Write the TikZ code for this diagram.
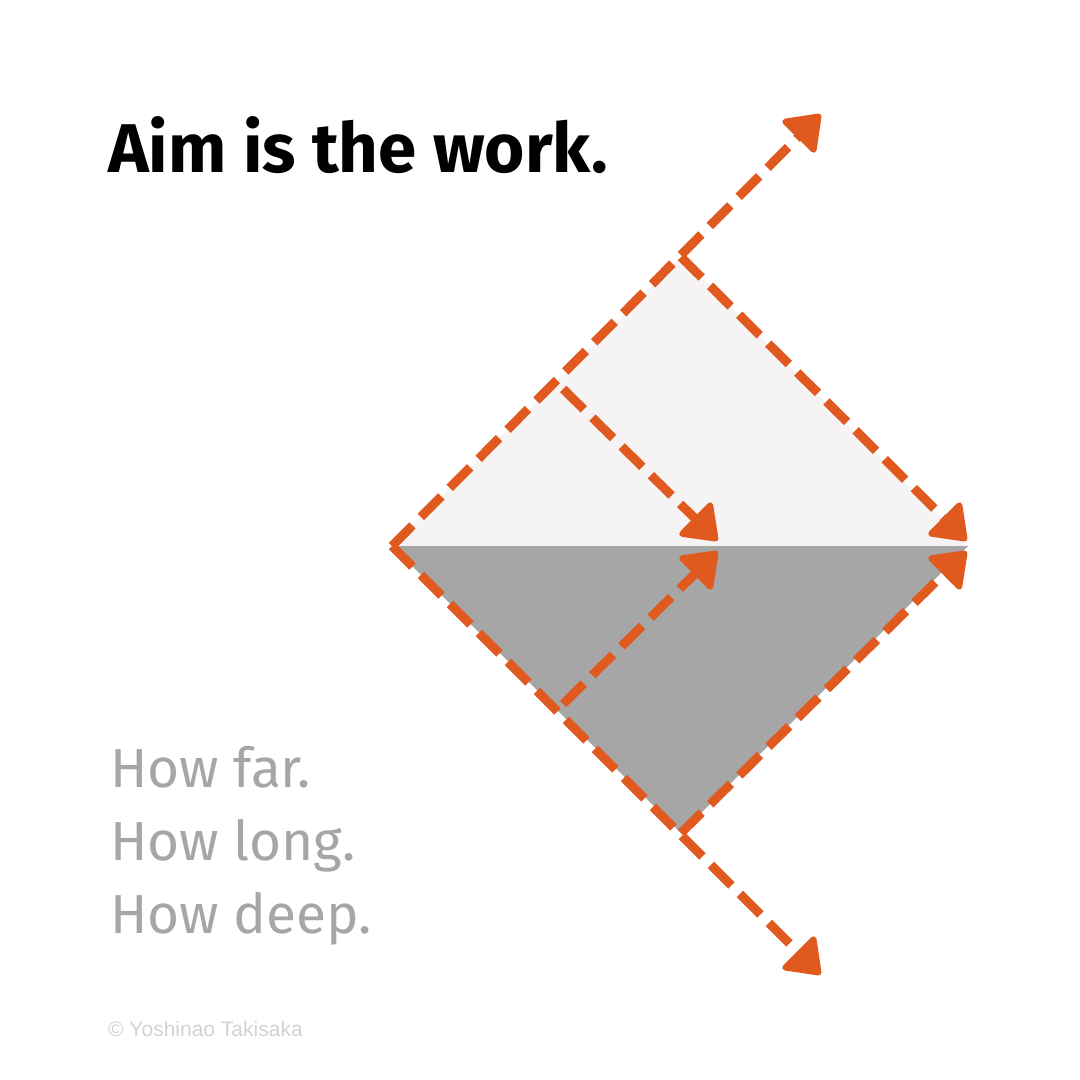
\documentclass[tikz,border=0pt]{standalone}
\usepackage{fontspec}
\setmainfont{Fira Sans}
\newfontfamily\arialfont{Liberation Sans}
\usetikzlibrary{calc}
\definecolor{orng}{RGB}{224,89,30}
\definecolor{lightfill}{HTML}{F6F3F4}
\definecolor{darkfill}{HTML}{A6A6A6}
\definecolor{txtgray}{HTML}{A6A6A6}
\definecolor{copygray}{HTML}{D2D2D2}
\tikzset{
  orangedash/.style={draw=orng, line width=9pt, dash pattern=on 29pt off 12pt, shorten >=26pt},
  headshape/.style={draw=orng, fill=orng, solid, line width=6pt, line join=round},
  titletext/.style={anchor=base west, inner sep=0pt, font=\bfseries\fontsize{69}{69}\selectfont},
  subtext/.style={anchor=base west, inner sep=0pt, text=txtgray, font=\fontsize{55}{55}\selectfont},
  copytext/.style={anchor=base west, inner sep=0pt, text=copygray, font=\arialfont\fontsize{21}{21}\selectfont}
}
% #1 = tip coordinate, #2 = coordinate the arrow comes from
\newcommand\myhead[2]{%
  \filldraw[headshape]
    ($(#1)!5pt!(#2)$)
    -- ($($(#1)!32pt!(#2)$)!20pt!90:(#1)$)
    -- ($($(#1)!32pt!(#2)$)!20pt!-90:(#1)$)
    -- cycle;}
\begin{document}
\begin{tikzpicture}[x=1pt,y=-1pt]
\useasboundingbox[fill=white] (0,0) rectangle (1080,1080);
% diamond vertices
\coordinate (L) at (392,546);
\coordinate (T) at (681,257);
\coordinate (R) at (968,546);
\coordinate (B) at (681,833);
% fills
\fill[lightfill] (L) -- (T) -- (R) -- cycle;
\fill[darkfill] (L) -- (R) -- (B) -- cycle;
% arrow ends (tips)
\coordinate (A1) at (822,113);
\coordinate (A2) at (968,542);
\coordinate (S3) at (556,382);
\coordinate (A3) at (719,542);
\coordinate (A4) at (822,976);
\coordinate (A5) at (968,550);
\coordinate (S6) at (556,711);
\coordinate (A6) at (719,550);
% dashed shafts
\draw[orangedash] (L) -- (A1);
\draw[orangedash] (T) -- (A2);
\draw[orangedash, dash phase=-10pt] (S3) -- (A3);
\draw[orangedash] (L) -- (A4);
\draw[orangedash] (B) -- (A5);
\draw[orangedash, dash phase=-10pt] (S6) -- (A6);
% solid heads
\myhead{A1}{L}
\myhead{A2}{T}
\myhead{A3}{S3}
\myhead{A4}{L}
\myhead{A5}{B}
\myhead{A6}{S6}
% texts
\node[titletext] (title) at (108,172) {Aim is the work.};
\node[subtext] (far) at (110,787) {How far.};
\node[subtext] (long) at (110,860) {How long.};
\node[subtext] (deep) at (110,933) {How deep.};
\node[copytext] (copy) at (108,1036) {© Yoshinao Takisaka};
\end{tikzpicture}
\end{document}
